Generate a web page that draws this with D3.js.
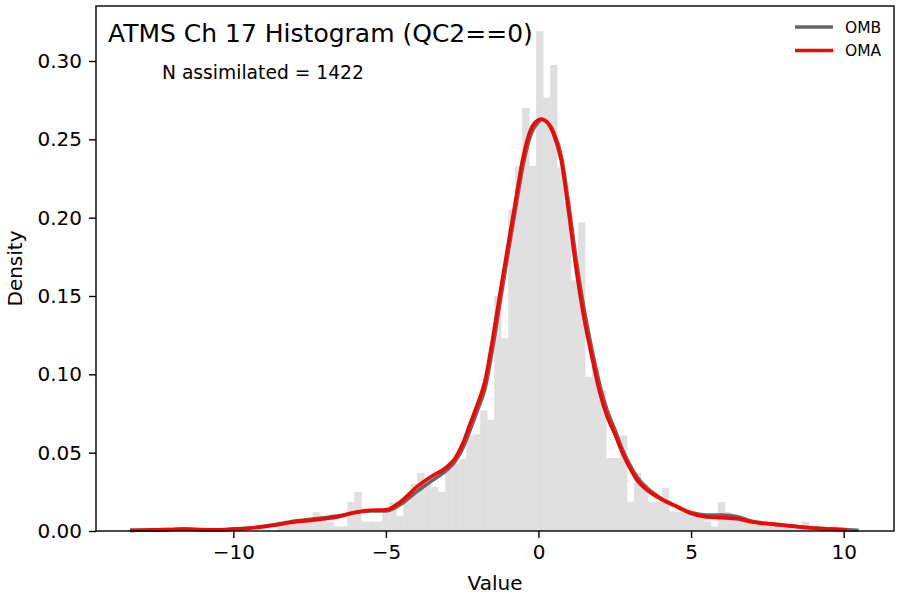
<html lang="en">
<head>
<meta charset="UTF-8">
<title>ATMS Ch 17 Histogram</title>
<style>
  body { margin: 0; background: #fff; font-family: "DejaVu Sans", sans-serif; }
  svg text { font-family: "DejaVu Sans", sans-serif; fill: #000; }
</style>
<script src="https://cdn.jsdelivr.net/npm/d3@7"></script>
</head>
<body>
<div id="chart"></div>
<script>
// histogram: left edge of first bin, bin width, density per bin
const binStart = -8.553;
const binWidth = 0.2291;
const binDensity = [
  0.006, 0.006, 0.006, 0.006, 0.006, 0.012, 0.009, 0.006, 0.003, 0.003,
  0.0185, 0.025, 0.006, 0.006, 0.006, 0.012, 0.0185, 0.0095, 0.019, 0.030,
  0.037, 0.030, 0.028, 0.025, 0.040, 0.043, 0.046, 0.061, 0.062, 0.077,
  0.071, 0.150, 0.123, 0.205, 0.233, 0.270, 0.233, 0.319, 0.2766, 0.2975,
  0.232, 0.210, 0.160, 0.197, 0.0985, 0.105, 0.090, 0.0466, 0.0466, 0.061,
  0.0187, 0.037, 0.030, 0.0187, 0.0187, 0.0274, 0.0123, 0.012, 0.012, 0.009,
  0.009, 0.006, 0.003, 0.0185, 0.012, 0.009, 0.009, 0.006, 0.006, 0.006,
  0.003, 0.006, 0.003, 0.003, 0.003, 0.006, 0.003, 0.003, 0.0, 0.003
];

// KDE curves
const omaX = [-13.38, -12.5, -12, -11.6, -11.2, -10.5, -10, -9.5, -9, -8.5, -8, -7.5, -7, -6.5, -6, -5.5, -5,
  -4.5, -4, -3.5, -3, -2.75, -2.5, -2.25, -2, -1.75, -1.5, -1.25, -1, -0.75, -0.5, -0.25, 0, 0.1, 0.25, 0.5,
  0.75, 1, 1.25, 1.5, 1.75, 2, 2.25, 2.5, 2.75, 3, 3.25, 3.5, 4, 4.5, 5, 5.5, 6, 6.5, 7, 7.5, 8, 8.5, 9, 9.5, 10.1];
const omaY = [0.0004, 0.0007, 0.001, 0.0013, 0.001, 0.0008, 0.0012, 0.0018, 0.0028, 0.0042, 0.0058, 0.0068, 0.0078, 0.0095, 0.012, 0.0132, 0.0135,
  0.019, 0.028, 0.035, 0.041, 0.046, 0.055, 0.068, 0.081, 0.096, 0.123, 0.153, 0.182, 0.211, 0.239, 0.2565, 0.2625, 0.263, 0.2615, 0.253,
  0.236, 0.202, 0.165, 0.135, 0.111, 0.089, 0.073, 0.062, 0.050, 0.040, 0.032, 0.027, 0.0205, 0.0158, 0.0112, 0.009, 0.0085, 0.0078, 0.0058, 0.0046, 0.0037, 0.0027, 0.0019, 0.0013, 0.0007];

const ombX = [-13.38, -12.5, -12, -11.6, -11.2, -10.5, -10, -9.5, -9, -8.5, -8, -7.5, -7, -6.5, -6, -5.5, -5,
  -4.5, -4, -3.5, -3, -2.75, -2.5, -2.25, -2, -1.75, -1.5, -1.25, -1, -0.75, -0.5, -0.25, 0, 0.1, 0.25, 0.5,
  0.75, 1, 1.25, 1.5, 1.75, 2, 2.25, 2.5, 2.75, 3, 3.25, 3.5, 4, 4.5, 5, 5.5, 6, 6.5, 7, 7.5, 8, 8.5, 9, 9.5, 10, 10.49];
const ombY = [0.0004, 0.0007, 0.001, 0.0012, 0.001, 0.0008, 0.0012, 0.0019, 0.003, 0.0046, 0.0063, 0.0075, 0.0085, 0.0098, 0.0118, 0.0128, 0.0128,
  0.0172, 0.025, 0.032, 0.039, 0.044, 0.052, 0.064, 0.077, 0.091, 0.117, 0.147, 0.177, 0.206, 0.234, 0.253, 0.261, 0.2625, 0.2615, 0.2545,
  0.239, 0.207, 0.171, 0.141, 0.116, 0.094, 0.077, 0.065, 0.052, 0.042, 0.034, 0.0285, 0.021, 0.016, 0.0118, 0.0102, 0.0102, 0.0092, 0.0062, 0.0048, 0.0038, 0.0028, 0.002, 0.0014, 0.0009, 0.0005];

const xTicks = [-10, -5, 0, 5, 10];
const yTicks = [0, 0.05, 0.10, 0.15, 0.20, 0.25, 0.30];
const series = [
  { name: "OMB", xs: ombX, ys: ombY, color: "#666666" },
  { name: "OMA", xs: omaX, ys: omaY, color: "#ff0000" }
];

const W = 900, H = 600;
const margin = { top: 6, right: 6, bottom: 69, left: 96 };
const width = W - margin.left - margin.right,
      height = H - margin.top - margin.bottom;

const svg = d3.select("#chart").append("svg")
  .attr("width", W).attr("height", H);

const g = svg.append("g")
  .attr("transform", "translate(" + margin.left + "," + margin.top + ")");

const x = d3.scaleLinear().domain([-14.5, 11.65]).range([0, width]);
const y = d3.scaleLinear().domain([0, 0.3351]).range([height, 0]);

// histogram bars
const bins = binDensity.map((d, i) => ({ x0: binStart + i * binWidth, x1: binStart + (i + 1) * binWidth, d: d }));
g.append("g").selectAll("rect")
  .data(bins.filter(b => b.d > 0))
  .join("rect")
  .attr("x", b => x(b.x0))
  .attr("width", b => x(b.x1) - x(b.x0) + 0.3)
  .attr("y", b => y(b.d))
  .attr("height", b => y(0) - y(b.d))
  .attr("fill", "#dfdfdf");

// kde lines
const line = d3.line()
  .x(p => x(p[0]))
  .y(p => y(p[1]))
  .curve(d3.curveMonotoneX);

series.forEach(s => {
  g.append("path")
    .datum(s.xs.map((v, i) => [v, s.ys[i]]))
    .attr("fill", "none")
    .attr("stroke", s.color)
    .attr("stroke-width", 3.6)
    .attr("stroke-linejoin", "round")
    .attr("d", line);
});

// axes
const fmtMinus = d => String(d).replace("-", "\u2212");
const xAxis = d3.axisBottom(x).tickValues(xTicks).tickSize(7).tickPadding(7).tickFormat(fmtMinus);
const yAxis = d3.axisLeft(y).tickValues(yTicks).tickSize(7).tickPadding(7).tickFormat(d3.format(".2f"));

const gx = g.append("g").attr("transform", "translate(0," + height + ")").call(xAxis);
const gy = g.append("g").call(yAxis);
[gx, gy].forEach(a => {
  a.select(".domain").remove();
  a.selectAll("line").attr("stroke", "#000").attr("stroke-width", 1.4);
  a.selectAll("text").attr("font-size", "20px").attr("fill", "#000");
});

// frame
g.append("rect")
  .attr("width", width).attr("height", height)
  .attr("fill", "none").attr("stroke", "#000").attr("stroke-width", 1.4);

// axis labels
svg.append("text")
  .attr("x", margin.left + width / 2).attr("y", 590)
  .attr("text-anchor", "middle").attr("font-size", "20px")
  .text("Value");
svg.append("text")
  .attr("transform", "translate(22," + (margin.top + height / 2) + ") rotate(-90)")
  .attr("text-anchor", "middle").attr("font-size", "20px")
  .text("Density");

// title and annotation
g.append("text")
  .attr("x", 12).attr("y", 36)
  .attr("font-size", "25px")
  .text("ATMS Ch 17 Histogram (QC2==0)");
g.append("text")
  .attr("x", 66).attr("y", 73)
  .attr("font-size", "18.7px")
  .text("N assimilated = 1422");

// legend
const legend = g.append("g").attr("transform", "translate(" + (width - 99) + ",21)");
series.forEach((s, i) => {
  const row = legend.append("g").attr("transform", "translate(0," + (i * 23.5) + ")");
  row.append("line")
    .attr("x1", 0).attr("x2", 38).attr("y1", 0).attr("y2", 0)
    .attr("stroke", s.color).attr("stroke-width", 3.4);
  row.append("text")
    .attr("x", 50).attr("y", 5.5)
    .attr("font-size", "15.5px")
    .text(s.name);
});
</script>
</body>
</html>
